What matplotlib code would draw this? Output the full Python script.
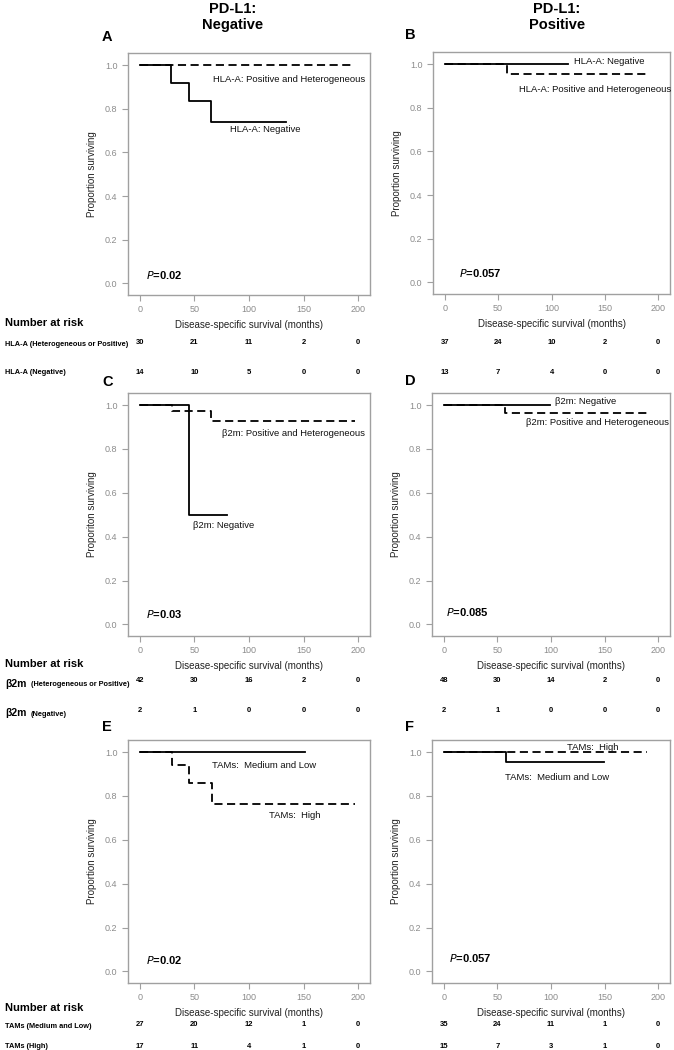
import matplotlib
matplotlib.use("Agg")
import matplotlib.pyplot as plt
from matplotlib.transforms import blended_transform_factory

plt.rcParams['font.family'] = ['Liberation Sans', 'DejaVu Sans']

# ---------------- data ----------------
x_ticks = [0, 50, 100, 150, 200]
y_ticks = [0.0, 0.2, 0.4, 0.6, 0.8, 1.0]

# Panel A (PD-L1 negative, HLA-A)
a_pos_t = [0, 194]
a_pos_s = [1.0, 1.0]
a_neg_t = [0, 28, 45, 65, 134]
a_neg_s = [1.0, 0.917, 0.833, 0.741, 0.741]
# Panel B (PD-L1 positive, HLA-A)
b_neg_t = [0, 115]
b_neg_s = [1.0, 1.0]
b_pos_t = [0, 58, 190]
b_pos_s = [1.0, 0.956, 0.956]
# Panel C (PD-L1 negative, b2m)
c_neg_t = [0, 45, 80]
c_neg_s = [1.0, 0.5, 0.5]
c_pos_t = [0, 29, 65, 197]
c_pos_s = [1.0, 0.971, 0.929, 0.929]
# Panel D (PD-L1 positive, b2m)
d_neg_t = [0, 99]
d_neg_s = [1.0, 1.0]
d_pos_t = [0, 57, 190]
d_pos_s = [1.0, 0.964, 0.964]
# Panel E (PD-L1 negative, TAMs)
e_low_t = [0, 151]
e_low_s = [1.0, 1.0]
e_high_t = [0, 29, 45, 66, 197]
e_high_s = [1.0, 0.941, 0.858, 0.765, 0.765]
# Panel F (PD-L1 positive, TAMs)
f_low_t = [0, 58, 149]
f_low_s = [1.0, 0.955, 0.955]
f_high_t = [0, 190]
f_high_s = [1.0, 1.0]

p_values = ["0.02", "0.057", "0.03", "0.085", "0.02", "0.057"]

risk_a_pos = [30, 21, 11, 2, 0]
risk_a_neg = [14, 10, 5, 0, 0]
risk_b_pos = [37, 24, 10, 2, 0]
risk_b_neg = [13, 7, 4, 0, 0]
risk_c_pos = [42, 30, 16, 2, 0]
risk_c_neg = [2, 1, 0, 0, 0]
risk_d_pos = [48, 30, 14, 2, 0]
risk_d_neg = [2, 1, 0, 0, 0]
risk_e_low = [27, 20, 12, 1, 0]
risk_e_high = [17, 11, 4, 1, 0]
risk_f_low = [35, 24, 11, 1, 0]
risk_f_high = [15, 7, 3, 1, 0]

# ---------------- figure ----------------
W, H = 674, 1050
fig = plt.figure(figsize=(W / 100, H / 100), dpi=100)

def fx(px):
    return px / W

def fy(py):
    return 1 - py / H

def make_ax(left, right, top, bottom):
    return fig.add_axes([fx(left), fy(bottom), fx(right - left), (bottom - top) / H])

GRAY = '#8c8c8c'
SPINE = '#a0a0a0'

def style(ax, ylabel):
    ax.set_xlim(-11, 211)
    ax.set_ylim(-0.053, 1.055)
    ax.set_xticks(x_ticks)
    ax.set_yticks(y_ticks)
    ax.set_xticklabels([str(v) for v in x_ticks])
    ax.set_yticklabels(["%.1f" % v for v in y_ticks])
    ax.tick_params(axis='both', colors=SPINE, labelcolor=GRAY, labelsize=6.5,
                   length=4, width=0.8, direction='out')
    for s in ax.spines.values():
        s.set_color(SPINE)
        s.set_linewidth(1.0)
    ax.set_ylabel(ylabel, fontsize=7, labelpad=6, color='#222222')
    ax.set_xlabel("Disease-specific survival (months)", fontsize=7, labelpad=4,
                  color='#222222')

def curve(ax, t, s, dashed):
    if dashed:
        ax.step(t, s, where='post', color='black', lw=1.3, linestyle=(0, (4.5, 2.5)))
    else:
        ax.step(t, s, where='post', color='black', lw=1.3)

def pval(ax, p, xpx, ypx):
    fig.text(fx(xpx), fy(ypx), r"$\bf{\it{P}}$" + "=" + p, fontsize=8,
             fontweight='bold', va='center', ha='left')

def lab(txt, xpx, ypx, size=6.8):
    fig.text(fx(xpx), fy(ypx), txt, fontsize=size, va='center', ha='left',
             color='#111111')

def risk_row(ax, values, ypx):
    tr = blended_transform_factory(ax.transData, fig.transFigure)
    for xv, v in zip(x_ticks, values):
        fig.text(xv, fy(ypx), str(v), transform=tr, fontsize=5.5,
                 fontweight='bold', ha='center', va='center')

axA = make_ax(128, 370, 53, 295)
axB = make_ax(433, 670, 52, 294)
axC = make_ax(128, 370, 393, 636)
axD = make_ax(432, 670, 393, 636)
axE = make_ax(128, 370, 740, 983)
axF = make_ax(432, 670, 740, 983)

style(axA, "Proportion surviving")
style(axB, "Proportion surviving")
style(axC, "Proporiton surviving")
style(axD, "Proportion surviving")
style(axE, "Proportion surviving")
style(axF, "Proportion surviving")

curve(axA, a_pos_t, a_pos_s, True)
curve(axA, a_neg_t, a_neg_s, False)
curve(axB, b_neg_t, b_neg_s, False)
curve(axB, b_pos_t, b_pos_s, True)
curve(axC, c_neg_t, c_neg_s, False)
curve(axC, c_pos_t, c_pos_s, True)
curve(axD, d_neg_t, d_neg_s, False)
curve(axD, d_pos_t, d_pos_s, True)
curve(axE, e_low_t, e_low_s, False)
curve(axE, e_high_t, e_high_s, True)
curve(axF, f_low_t, f_low_s, False)
curve(axF, f_high_t, f_high_s, True)

# curve labels
lab("HLA-A: Positive and Heterogeneous", 213, 80)
lab("HLA-A: Negative", 230, 130)
lab("HLA-A: Negative", 574, 62)
lab("HLA-A: Positive and Heterogeneous", 519, 90)
lab("β2m: Positive and Heterogeneous", 222, 434)
lab("β2m: Negative", 193, 526)
lab("β2m: Negative", 555, 401)
lab("β2m: Positive and Heterogeneous", 526, 423)
lab("TAMs:  Medium and Low", 212, 765)
lab("TAMs:  High", 269, 816)
lab("TAMs:  High", 567, 747)
lab("TAMs:  Medium and Low", 505, 777)

# p values
pval(axA, p_values[0], 146, 275)
pval(axB, p_values[1], 459, 273)
pval(axC, p_values[2], 146, 614)
pval(axD, p_values[3], 446, 612)
pval(axE, p_values[4], 146, 960)
pval(axF, p_values[5], 449, 958)

# column titles and panel letters
fig.text(fx(233), fy(17), "PD-L1:\nNegative", fontsize=10.5, fontweight='bold',
         ha='center', va='center', linespacing=1.1)
fig.text(fx(557), fy(17), "PD-L1:\nPositive", fontsize=10.5, fontweight='bold',
         ha='center', va='center', linespacing=1.1)
for letter, xp, yp in [("A", 102, 37), ("B", 405, 35), ("C", 102, 382),
                       ("D", 405, 381), ("E", 102, 727), ("F", 405, 727)]:
    fig.text(fx(xp), fy(yp), letter, fontsize=10.5, fontweight='bold',
             ha='left', va='center')

# number at risk tables
for ytop in [323, 664, 1008]:
    fig.text(fx(5), fy(ytop), "Number at risk", fontsize=8, fontweight='bold',
             ha='left', va='center')

fig.text(fx(5), fy(344), "HLA-A (Heterogeneous or Positive)", fontsize=5.3,
         fontweight='bold', ha='left', va='center')
fig.text(fx(5), fy(373), "HLA-A (Negative)", fontsize=5.3,
         fontweight='bold', ha='left', va='center')
fig.text(fx(5), fy(684), "β2m", fontsize=7.5, fontweight='bold', ha='left', va='center')
fig.text(fx(31), fy(685), "(Heterogeneous or Positive)", fontsize=5.3,
         fontweight='bold', ha='left', va='center')
fig.text(fx(5), fy(713), "β2m", fontsize=7.5, fontweight='bold', ha='left', va='center')
fig.text(fx(31), fy(714), "(Negative)", fontsize=5.3,
         fontweight='bold', ha='left', va='center')
fig.text(fx(5), fy(1027), "TAMs (Medium and Low)", fontsize=5.3,
         fontweight='bold', ha='left', va='center')
fig.text(fx(5), fy(1047), "TAMs (High)", fontsize=5.3,
         fontweight='bold', ha='left', va='center')

risk_row(axA, risk_a_pos, 343)
risk_row(axA, risk_a_neg, 372)
risk_row(axB, risk_b_pos, 343)
risk_row(axB, risk_b_neg, 372)
risk_row(axC, risk_c_pos, 681)
risk_row(axC, risk_c_neg, 710)
risk_row(axD, risk_d_pos, 681)
risk_row(axD, risk_d_neg, 710)
risk_row(axE, risk_e_low, 1025)
risk_row(axE, risk_e_high, 1046)
risk_row(axF, risk_f_low, 1025)
risk_row(axF, risk_f_high, 1046)

fig.savefig("out.png", dpi=100)
